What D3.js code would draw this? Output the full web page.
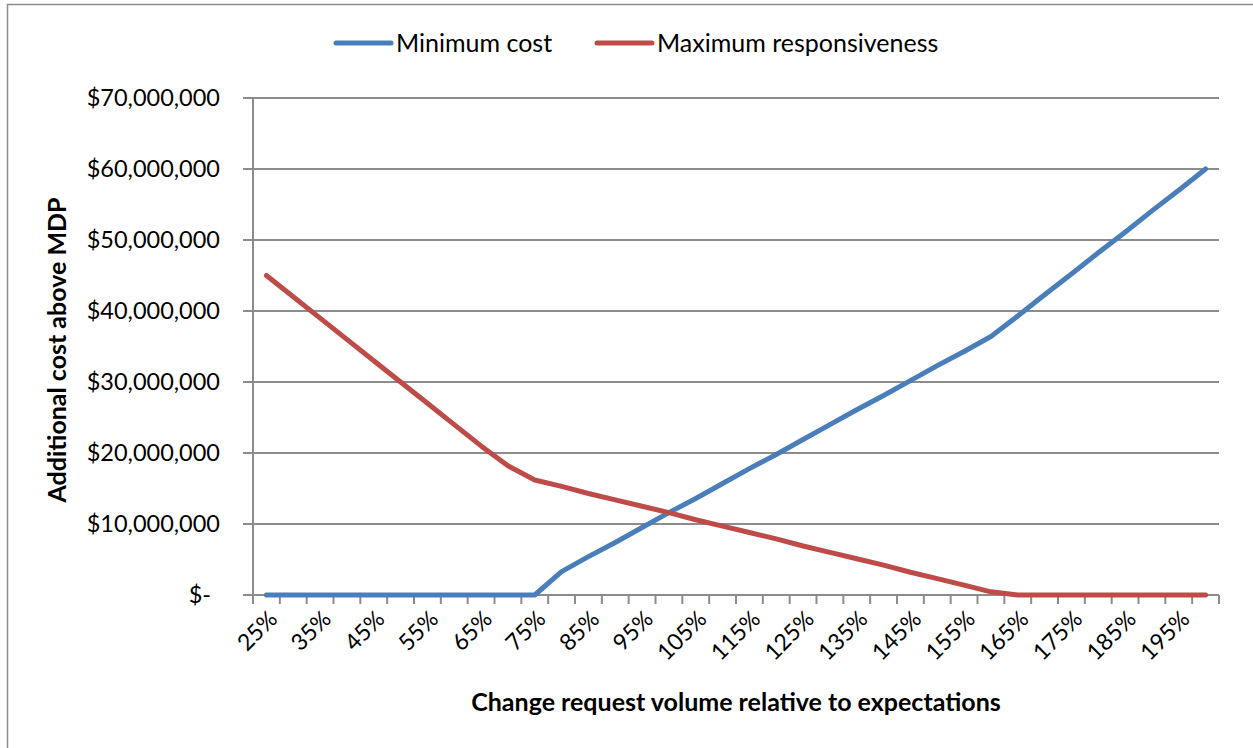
<!DOCTYPE html>
<html>
<head>
<meta charset="utf-8">
<script src="https://cdn.jsdelivr.net/npm/d3@7"></script>
<style>
  body { margin: 0; background: #fff; }
  svg text { font-family: Lato, "Open Sans", sans-serif; fill: #000; }
</style>
</head>
<body>
<div id="chart"></div>
<script>
// categories: change request volume, 25% .. 200% in 5% steps
const categories = ["25%","30%","35%","40%","45%","50%","55%","60%","65%","70%","75%","80%",
  "85%","90%","95%","100%","105%","110%","115%","120%","125%","130%","135%","140%",
  "145%","150%","155%","160%","165%","170%","175%","180%","185%","190%","195%","200%"];

// additional cost above MDP, in $ millions
const minimumCost = [0,0,0,0,0,0,0,0,0,0,0,3.3,
  5.4,7.4,9.5,11.6,13.6,15.7,17.8,19.8,21.9,24.0,26.1,28.1,
  30.2,32.3,34.3,36.4,39.3,42.3,45.2,48.2,51.1,54.1,57.0,60.0];

const maximumResponsiveness = [45,42,39,36,33,30,27,24,21,18.2,16.2,15.3,
  14.3,13.4,12.5,11.6,10.6,9.7,8.8,7.9,6.9,6.0,5.1,4.2,
  3.2,2.3,1.4,0.45,0,0,0,0,0,0,0,0];

const yTicks = [0,10,20,30,40,50,60,70];

const seriesNames = ["Minimum cost", "Maximum responsiveness"];
const seriesColors = ["#4a7ebb", "#be4b48"];

const W = 1253, H = 748;
let margin = {top: 98, right: 34, bottom: 153, left: 253};
let width = W - margin.left - margin.right,
    height = H - margin.top - margin.bottom;

let svg = d3.select("#chart").append("svg")
  .attr("width", W).attr("height", H);

// outer chart border
svg.append("rect")
  .attr("x", 7.5).attr("y", 4.5)
  .attr("width", W).attr("height", H)
  .attr("fill", "none").attr("stroke", "#8c8c8c").attr("stroke-width", 1.5);

let g = svg.append("g").attr("transform", "translate(" + margin.left + "," + margin.top + ")");

let x = d3.scaleBand().domain(categories).range([0, width]).padding(0);
let y = d3.scaleLinear().domain([0, 70]).range([height, 0]);

const gridColor = "#8c8c8c";

// gridlines + y ticks
g.selectAll(".grid").data(yTicks).enter().append("line")
  .attr("x1", -10).attr("x2", width)
  .attr("y1", d => y(d)).attr("y2", d => y(d))
  .attr("stroke", gridColor).attr("stroke-width", 2);

// y axis line
g.append("line").attr("x1", 0).attr("x2", 0).attr("y1", 0).attr("y2", height)
  .attr("stroke", gridColor).attr("stroke-width", 2);

// x ticks at category boundaries
let bounds = categories.map(c => x(c)).concat([width]);
g.selectAll(".xtick").data(bounds).enter().append("line")
  .attr("x1", d => d).attr("x2", d => d)
  .attr("y1", height).attr("y2", height + 9)
  .attr("stroke", gridColor).attr("stroke-width", 2);

// y labels
let fmt = d3.format(",");
g.selectAll(".ylab").data(yTicks).enter().append("text")
  .attr("x", d => d === 0 ? -42 : -33)
  .attr("y", d => y(d))
  .attr("dy", "0.36em")
  .attr("text-anchor", "end")
  .style("font-size", "23.5px")
  .text(d => d === 0 ? "$-" : "$" + fmt(d * 1000000));

// x labels every other category
g.selectAll(".xlab").data(categories.filter((c, i) => i % 2 === 0)).enter().append("text")
  .attr("transform", d => "translate(" + (x(d) + x.bandwidth() / 2 + 1) + "," + (height + 14) + ") rotate(-45)")
  .attr("text-anchor", "end")
  .attr("dy", "0.7em")
  .style("font-size", "23px")
  .text(d => d);

// lines
let line = d3.line()
  .x((d, i) => x(categories[i]) + x.bandwidth() / 2)
  .y(d => y(d));

[minimumCost, maximumResponsiveness].forEach(function(values, k) {
  g.append("path")
    .datum(values)
    .attr("fill", "none")
    .attr("stroke", seriesColors[k])
    .attr("stroke-width", 5)
    .attr("stroke-linejoin", "round")
    .attr("stroke-linecap", "round")
    .attr("d", line);
});

// axis titles
svg.append("text")
  .attr("x", 736).attr("y", 711)
  .attr("text-anchor", "middle")
  .style("font-size", "25px").style("font-weight", "bold")
  .text("Change request volume relative to expectations");

svg.append("text")
  .attr("transform", "translate(66,350) rotate(-90)")
  .attr("text-anchor", "middle")
  .style("font-size", "25px").style("font-weight", "bold")
  .text("Additional cost above MDP");

// legend
let legendX = [336, 597];
seriesNames.forEach(function(name, k) {
  svg.append("line")
    .attr("x1", legendX[k]).attr("x2", legendX[k] + 55)
    .attr("y1", 43).attr("y2", 43)
    .attr("stroke", seriesColors[k]).attr("stroke-width", 5)
    .attr("stroke-linecap", "round");
  svg.append("text")
    .attr("x", legendX[k] + 60).attr("y", 43)
    .attr("dy", "0.36em")
    .style("font-size", "25px")
    .text(name);
});
</script>
</body>
</html>
